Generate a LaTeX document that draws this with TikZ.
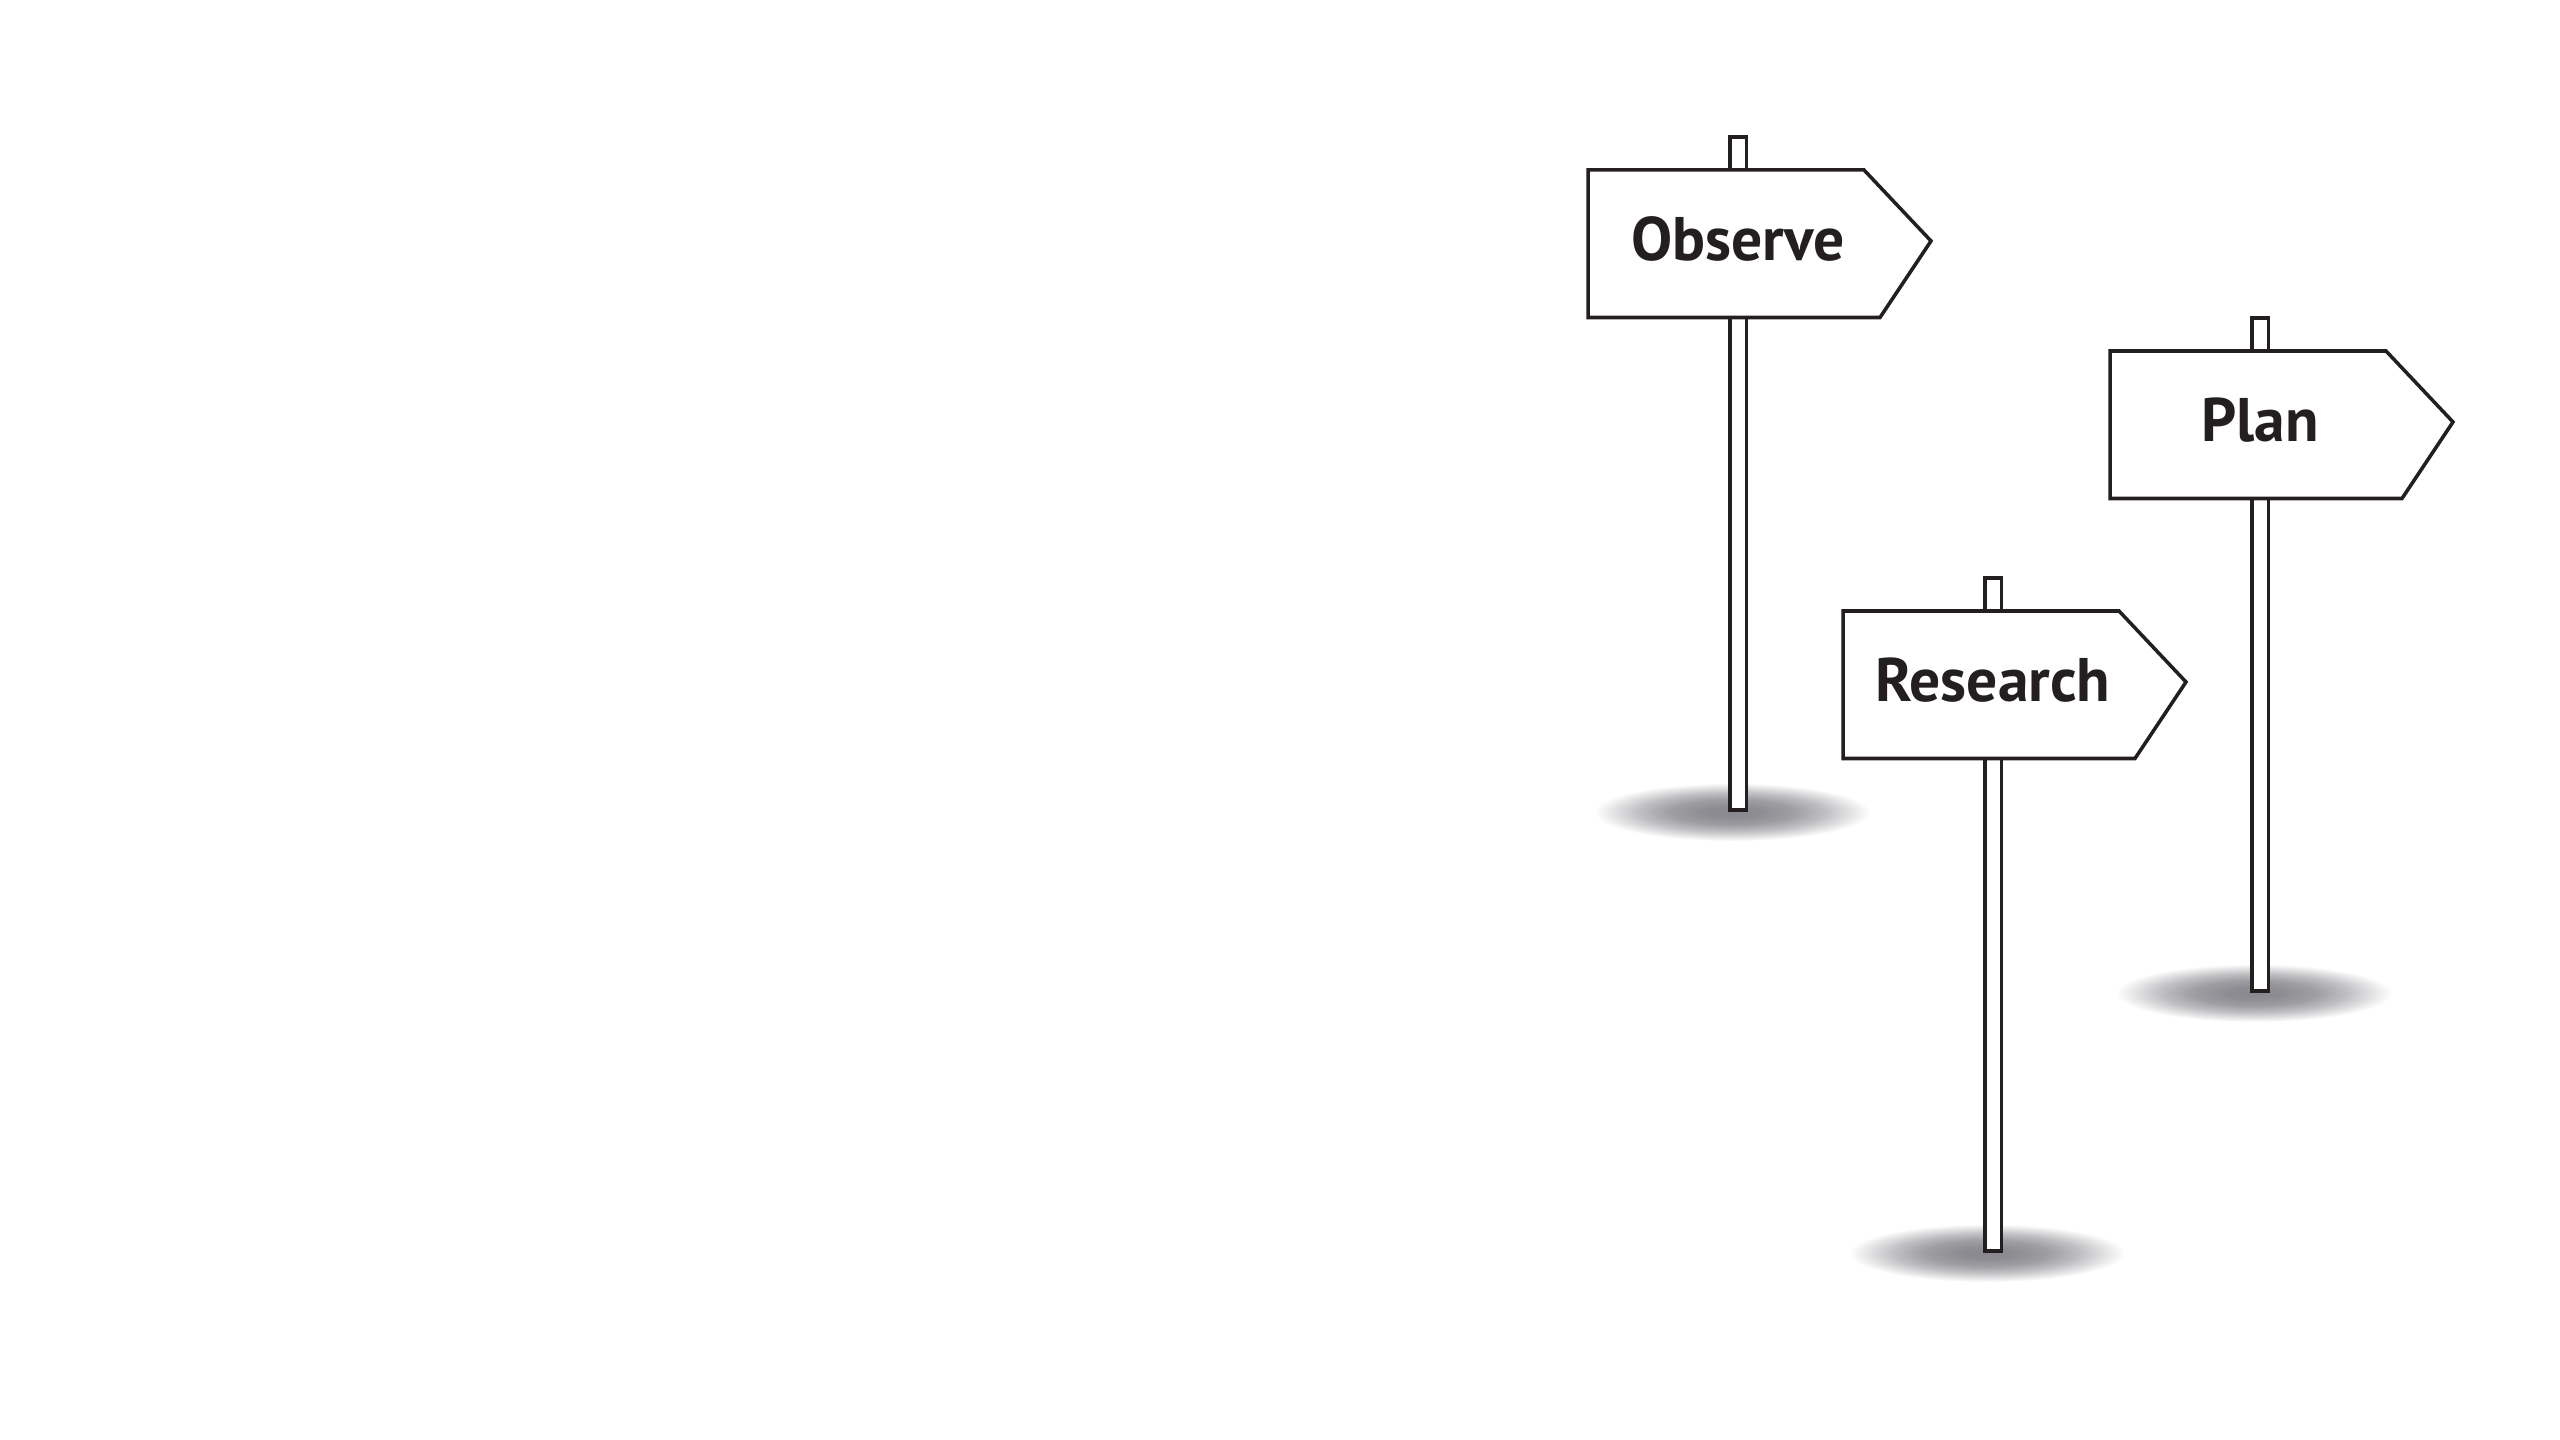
\documentclass[tikz,border=0pt]{standalone}
\usepackage{fontspec}
\setmainfont{PT Sans}
\usetikzlibrary{shapes.geometric}
\definecolor{ink}{HTML}{231F20}
\definecolor{shadowc}{HTML}{88888E}
\pgfdeclareradialshading{groundshadow}{\pgfpoint{0bp}{0bp}}{%
  color(0bp)=(shadowc);
  color(5bp)=(shadowc!96!white);
  color(11bp)=(shadowc!82!white);
  color(17bp)=(shadowc!52!white);
  color(22bp)=(shadowc!20!white);
  color(25bp)=(white);
  color(50bp)=(white)}
\tikzset{
  outline/.style={draw=ink, line width=1pt, fill=white, line join=miter},
  signtext/.style={font=\bfseries\fontsize{17.5pt}{20pt}\selectfont, text=ink, anchor=base, inner sep=0pt},
  groundshade/.style={shading=groundshadow, draw=none}
}
\begin{document}
\begin{tikzpicture}[x=0.01cm, y=-0.01cm]
\useasboundingbox (0,0) rectangle (2560,1440);
\fill[white] (0,0) rectangle (2560,1440);
\foreach \bx/\by/\nm/\txt in {1588/170/obs/Observe, 1843/611/res/Research, 2110/351/pla/Plan}{
  \begin{scope}[shift={(\bx,\by)}]
    \shade[groundshade] (144,642) ellipse [x radius=138, y radius=29];
    \draw[outline] (142,-33) rectangle (158.5,640);
    \draw[outline] (0,0) -- (276,0) -- (343,71) -- (292,147.5) -- (0,147.5) -- cycle;
    \node[signtext] (\nm) at (150,91) {\txt};
  \end{scope}
}
\end{tikzpicture}
\end{document}
